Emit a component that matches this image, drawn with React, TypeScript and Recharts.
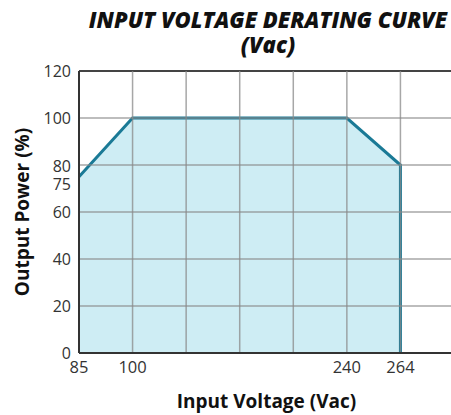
import React from "react";
import { ComposedChart, Area, XAxis, YAxis, ReferenceLine } from "recharts";

// x positions are category slots on the chart's grid
const xSlots = [0, 1, 2, 3, 4, 5, 6, 7];
const xTickSlots = [0, 1, 5, 6];
const xTickLabels: Record<number, string> = { 0: "85", 1: "100", 5: "240", 6: "264" };
const yTicks = [0, 20, 40, 60, 75, 80, 100, 120];
const yGrid = [0, 20, 40, 60, 80, 100, 120];
const curveSlots = [0, 1, 5, 6, 6];
const curvePower = [75, 100, 100, 80, 0];

const data = curveSlots.map((s, i) => ({ slot: s, power: curvePower[i] }));

const FONT = "'Open Sans', 'Noto Sans', sans-serif";

const YTick = (props: any) => {
  const { x, y, payload } = props;
  const shift = payload.value === 75 ? 7 : payload.value === 80 ? 1 : 0;
  return (
    <text x={x} y={y + shift} dy={6} textAnchor="end" fontSize={16} fill="#333" fontFamily={FONT}>
      {payload.value}
    </text>
  );
};

const titleStyle: React.CSSProperties = {
  position: "absolute",
  left: 68,
  width: 400,
  textAlign: "center",
  fontWeight: 800,
  fontStyle: "italic",
  fontSize: 22,
  lineHeight: "22px",
  color: "#111",
  whiteSpace: "nowrap",
};

export default function App() {
  return (
    <div style={{ position: "absolute", left: 0, top: 0, width: 451, height: 415, overflow: "hidden", background: "#fff", fontFamily: FONT }}>
      <div style={{ ...titleStyle, top: 7.5 }}>INPUT VOLTAGE DERATING CURVE</div>
      <div style={{ ...titleStyle, top: 32.5 }}>(Vac)</div>
      <ComposedChart width={460} height={415} data={data} margin={{ top: 71, right: 6, bottom: 0, left: 0 }} style={{ position: "absolute", left: 0, top: 0 }}>
        <XAxis
          type="number"
          dataKey="slot"
          domain={[0, 7]}
          ticks={xTickSlots}
          tickFormatter={(v: number) => xTickLabels[v] ?? ""}
          tickLine={false}
          axisLine={false}
          height={62}
          tick={{ fontSize: 16.5, fill: "#333", fontFamily: FONT }}
          dy={0}
          label={{ value: "Input Voltage (Vac)", position: "insideBottom", offset: 7, style: { fontSize: 19, fontWeight: 700, fill: "#111", fontFamily: FONT } }}
          interval={0}
        />
        <YAxis
          type="number"
          domain={[0, 120]}
          ticks={yTicks}
          tickLine={false}
          axisLine={false}
          width={79}
          interval={0}
          tick={<YTick />}
          label={{ value: "Output Power (%)", angle: -90, position: "insideLeft", offset: 22, style: { fontSize: 19, fontWeight: 700, fill: "#111", fontFamily: FONT, textAnchor: "middle" } }}
        />
        <Area
          type="linear"
          dataKey="power"
          stroke="#1a7a96"
          strokeWidth={3}
          fill="#b3e3ee"
          fillOpacity={0.65}
          isAnimationActive={false}
        />
        {yGrid.map((v) => (
          <ReferenceLine key={"y" + v} y={v} stroke={v === 120 ? "#444" : "#8a8a8a"} strokeWidth={v === 120 ? 2 : 1.5} strokeOpacity={v === 120 ? 1 : 0.75} />
        ))}
        {xSlots.map((v) => (
          <ReferenceLine key={"x" + v} x={v} stroke="#8a8a8a" strokeWidth={1.5} strokeOpacity={0.75} />
        ))}
        <ReferenceLine x={0} stroke="#333" strokeWidth={2} />
        <ReferenceLine y={0} stroke="#333" strokeWidth={2} />
      </ComposedChart>
    </div>
  );
}
